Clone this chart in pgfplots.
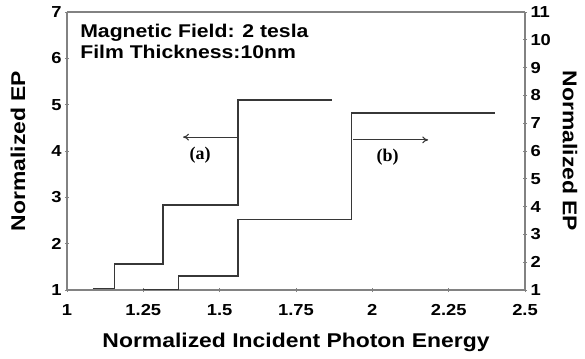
\documentclass[border=0pt]{standalone}
\usepackage{pgfplots}
\pgfplotsset{compat=1.18}
\usepackage{fontspec}
\setmainfont[FakeStretch=1.15]{Liberation Sans}
\newfontfamily\labelserif{Liberation Serif}
\usetikzlibrary{arrows.meta}

\definecolor{stepline}{RGB}{55,55,55}
\definecolor{axisgray}{RGB}{130,130,130}

% Series (a): left axis, series (b): right axis
\pgfplotstableread{
x y
1.085 1.03
1.155 1.555
1.315 2.835
1.561 5.10
1.867 5.10
}\seriesA
\pgfplotstableread{
x y
1.25  1.00
1.365 1.50
1.561 3.54
1.932 7.36
2.402 7.36
}\seriesB

\pgfplotsset{
  commonaxis/.style={
    scale only axis,
    width=458bp, height=278bp,
    xmin=1, xmax=2.5,
    axis line style={axisgray, line width=1.1pt},
    tick style={axisgray, line width=0.9pt},
    tick align=center,
    major tick length=4bp,
    tick label style={font=\fontsize{16}{18}\selectfont\bfseries},
    label style={font=\fontsize{20}{24}\selectfont\bfseries},
    /pgf/number format/assume math mode=true,
  },
}

\begin{document}
\begin{tikzpicture}
\path[use as bounding box] (-67bp,-69bp) rectangle (518bp,290bp);

\begin{axis}[
  commonaxis,
  ymin=1, ymax=7,
  ytick={1,2,3,4,5,6,7},
  xtick={1,1.25,1.5,1.75,2,2.25,2.5},
  xticklabels={1,1.25,1.5,1.75,2,2.25,2.5},
  xticklabel style={yshift=-9bp},
  axis y line*=left,
  axis x line*=bottom,
  xlabel={Normalized Incident Photon Energy},
  ylabel={Normalized EP},
  xlabel style={at={(axis description cs:0.5,-0.19)}, anchor=center},
  ylabel style={at={(axis description cs:-0.107,0.5)}, anchor=center},
  clip=false,
]
\addplot[const plot, stepline, line width=1.6pt] table[x=x, y=y] {\seriesA};

% top border of the frame
\draw[axisgray, line width=1.1pt] (rel axis cs:0,1) -- (rel axis cs:1,1);

% annotations
\node[anchor=north west, align=left, font=\fontsize{18.5}{21.5}\selectfont\bfseries, inner sep=0pt]
  at (axis cs:1.043,6.75) {Magnetic Field: 2 tesla\\Film Thickness:10nm};
\draw[-{To[length=6bp,width=7bp]}, stepline, line width=1.1pt] (axis cs:1.561,4.30) -- (axis cs:1.38,4.30);
\node[font=\labelserif\fontsize{18}{20}\selectfont\bfseries] at (axis cs:1.436,3.92) {(a)};
\draw[-{To[length=6bp,width=7bp]}, stepline, line width=1.1pt] (axis cs:1.937,4.24) -- (axis cs:2.183,4.24);
\node[font=\labelserif\fontsize{18}{20}\selectfont\bfseries] at (axis cs:2.05,3.87) {(b)};
\end{axis}

\begin{axis}[
  commonaxis,
  ymin=1, ymax=11,
  ytick={1,2,3,4,5,6,7,8,9,10,11},
  axis y line*=right,
  axis x line=none,
  ylabel={Normalized EP},
  ylabel style={at={(axis description cs:1.098,0.5)}, anchor=center, rotate=-180},
]
\addplot[const plot, stepline, line width=1.6pt] table[x=x, y=y] {\seriesB};
\end{axis}
\end{tikzpicture}
\end{document}
